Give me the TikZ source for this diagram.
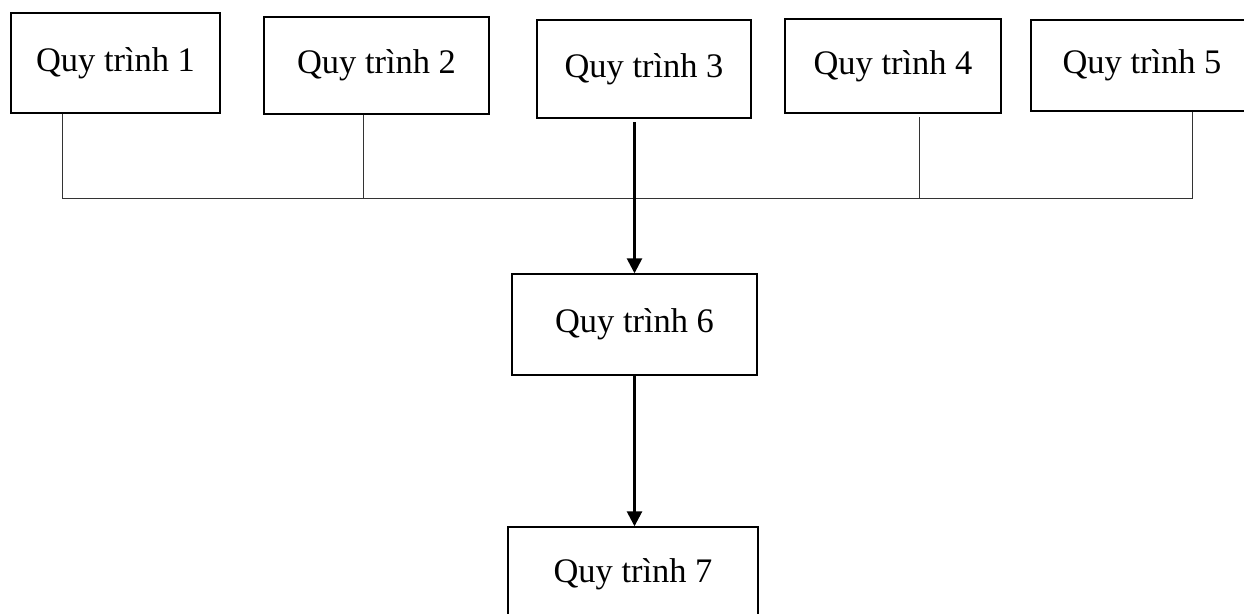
\documentclass[tikz,border=0pt]{standalone}
\usepackage{fontspec}
\setmainfont{Liberation Serif}
\usepackage{tikz}
\usetikzlibrary{arrows.meta}

\begin{document}
\begin{tikzpicture}[
  x=0.02cm, y=-0.02cm,
  proc/.style={rectangle, draw, line width=0.8pt, align=center,
    font=\fontsize{19.6}{23}\selectfont},
  link/.style={line width=0.55pt, draw=black!80},
  arrow/.style={-{Triangle[length=0.3cm, width=0.3cm]}, line width=1.5pt}
]
\useasboundingbox (0,0) rectangle (1244,614);
\clip (0,0) rectangle (1244,614);

% top row of processes
\node[proc, minimum width=4.18cm, minimum height=2.00cm] (q1) at (115.5,63)  {Quy trình 1};
\node[proc, minimum width=4.50cm, minimum height=1.94cm] (q2) at (376.5,65.5) {Quy trình 2};
\node[proc, minimum width=4.28cm, minimum height=1.96cm] (q3) at (644,69)    {Quy trình 3};
\node[proc, minimum width=4.32cm, minimum height=1.88cm] (q4) at (893,66)    {Quy trình 4};
\node[proc, minimum width=4.44cm, minimum height=1.82cm] (q5) at (1142,65.5) {Quy trình 5};

% lower column
\node[proc, minimum width=4.90cm, minimum height=2.02cm] (q6) at (634.5,324.5) {Quy trình 6};
\node[proc, minimum width=5.00cm, minimum height=1.88cm] (q7) at (633,574)     {Quy trình 7};

% shared bus under the top row
\coordinate (busL) at (62,198);
\coordinate (j2)   at (363,198);
\coordinate (j4)   at (919,198);
\coordinate (busR) at (1192,198);

\draw[link] (q1.south -| busL) -- (busL) -- (busR) -- (q5.south -| busR);
\draw[link] (q2.south -| j2) -- (j2);
\draw[link, shorten <=2pt] (q4.south -| j4) -- (j4);

% Arrows
\draw[arrow, shorten <=2pt] (q3.south -| q6.north) -- (q6.north);
\draw[arrow] (q6.south) -- (q6.south |- q7.north);

\end{tikzpicture}
\end{document}
